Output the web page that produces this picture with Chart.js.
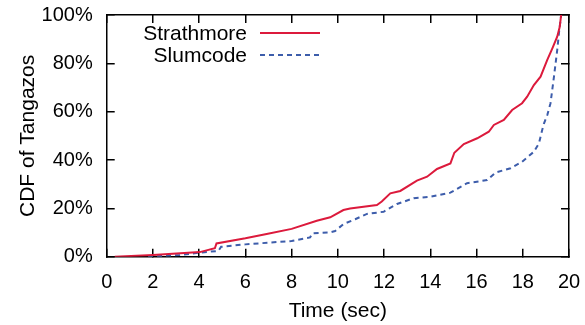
<!DOCTYPE html>
<html>
<head>
<meta charset="utf-8">
<style>
  html, body { margin: 0; padding: 0; background: #fff; }
  #wrap { width: 585px; height: 325px; }
</style>
<script src="https://cdn.jsdelivr.net/npm/chart.js@4/dist/chart.umd.min.js"></script>
</head>
<body>
<div id="wrap"><canvas id="cdfChart" width="585" height="325"></canvas></div>
<script>
// series (time in sec, CDF in %)
const strathTime = [0.35, 2.0, 4.03, 4.68, 4.75, 6.0, 6.92, 8.0, 9.09, 9.67, 10.24, 10.53, 11.69, 11.9, 12.27, 12.7, 13.42, 13.86, 14.29, 14.87, 15.04, 15.45, 16.03, 16.53, 16.75, 17.18, 17.54, 17.97, 18.19, 18.48, 18.77, 19.06, 19.28, 19.49, 19.6, 19.66];
const strathCdf = [0, 0.7, 1.9, 3.5, 5.5, 7.6, 9.4, 11.5, 14.9, 16.3, 19.3, 19.9, 21.4, 22.8, 26.2, 27.2, 31.5, 33.1, 36.3, 38.6, 43, 46.6, 49, 51.7, 54.5, 56.6, 60.7, 63.5, 66.2, 71, 74.5, 81.4, 86.2, 91, 95.1, 100];

const slumTime = [1.79, 3.16, 4.03, 4.83, 4.95, 6.0, 8.0, 8.8, 8.9, 9.67, 9.88, 10.24, 10.75, 11.26, 11.98, 12.56, 13.28, 14.0, 14.87, 15.59, 16.46, 16.82, 17.47, 17.97, 18.48, 18.7, 18.84, 18.92, 19.06, 19.2, 19.35, 19.49, 19.58, 19.66];
const slumCdf = [0, 0.7, 1.7, 2.4, 4.1, 5.1, 6.5, 8, 9.7, 10.1, 10.6, 13.5, 15.5, 17.7, 18.6, 21.8, 24.2, 24.8, 26.5, 30.4, 31.7, 34.8, 36.6, 39.3, 43.4, 46.9, 52.4, 55.2, 58.6, 63.5, 74.5, 85.5, 93.8, 100];

const xTicks = [0, 2, 4, 6, 8, 10, 12, 14, 16, 18, 20];
const yTicks = [0, 20, 40, 60, 80, 100];
const seriesNames = ["Strathmore", "Slumcode"];

const font = "'Liberation Sans', Arial, sans-serif";
const red = "#dc1a3c";
const blue = "#3d5dab";

const toPoints = (xs, ys) => xs.map((x, i) => ({ x, y: ys[i] }));

// box border + inward ticks come from the scales themselves
const frameBorder = { display: true, color: "#000", width: 1.5 };
const inwardTicks = { display: true, drawOnChartArea: false, drawTicks: true, tickLength: -8, color: "#000", lineWidth: 1.5 };

// legend in the top-left corner, text right-aligned before the line sample
const legendPlugin = {
  id: "cornerLegend",
  afterDraw(chart) {
    const { ctx } = chart;
    ctx.save();
    ctx.font = "21px " + font;
    ctx.fillStyle = "#000";
    ctx.textAlign = "right";
    ctx.textBaseline = "middle";
    const rows = [{ y: 34, color: red, dash: [] }, { y: 56, color: blue, dash: [5, 4] }];
    rows.forEach((r, i) => {
      ctx.fillText(seriesNames[i], 247, r.y);
      ctx.beginPath();
      ctx.strokeStyle = r.color;
      ctx.lineWidth = 2;
      ctx.setLineDash(r.dash);
      ctx.moveTo(260, r.y - 1);
      ctx.lineTo(320, r.y - 1);
      ctx.stroke();
    });
    ctx.restore();
  }
};

new Chart(document.getElementById("cdfChart"), {
  type: "line",
  data: {
    datasets: [
      {
        label: seriesNames[0],
        data: toPoints(strathTime, strathCdf),
        borderColor: red,
        borderWidth: 2,
        pointRadius: 0,
        tension: 0,
      },
      {
        label: seriesNames[1],
        data: toPoints(slumTime, slumCdf),
        borderColor: blue,
        borderWidth: 2,
        borderDash: [5, 4],
        pointRadius: 0,
        tension: 0,
      },
    ],
  },
  options: {
    responsive: false,
    animation: false,
    layout: { padding: { left: 0, top: 15, right: 16, bottom: 0 } },
    plugins: {
      legend: { display: false },
      tooltip: { enabled: false },
    },
    scales: {
      x: {
        type: "linear",
        min: 0,
        max: 20,
        afterBuildTicks: (scale) => { scale.ticks = xTicks.map(v => ({ value: v })); },
        afterFit: (scale) => {
          scale.height = 68.3;
          scale.paddingLeft = 0;
          scale.paddingRight = 0;
        },
        grid: inwardTicks,
        border: frameBorder,
        ticks: { color: "#000", font: { family: font, size: 20 }, padding: 22, maxRotation: 0 },
        title: { display: true, text: "Time (sec)", color: "#000", font: { family: font, size: 21 }, padding: { top: 0, bottom: 1 } },
      },
      x2: {
        type: "linear",
        position: "top",
        min: 0,
        max: 20,
        afterBuildTicks: (scale) => { scale.ticks = xTicks.map(v => ({ value: v })); },
        afterFit: (scale) => {
          scale.height = 0;
          scale.paddingLeft = 0;
          scale.paddingRight = 0;
        },
        grid: inwardTicks,
        border: frameBorder,
        ticks: { display: false },
      },
      y: {
        min: 0,
        max: 100,
        afterBuildTicks: (scale) => { scale.ticks = yTicks.map(v => ({ value: v })); },
        afterFit: (scale) => {
          scale.width = 106.7;
          scale.paddingTop = 0;
          scale.paddingBottom = 0;
        },
        grid: inwardTicks,
        border: frameBorder,
        ticks: { color: "#000", font: { family: font, size: 20 }, padding: 22, callback: (v) => v + "%" },
        title: { display: true, text: "CDF of Tangazos", color: "#000", font: { family: font, size: 21 }, padding: { top: 16, bottom: 0 } },
      },
      y2: {
        position: "right",
        min: 0,
        max: 100,
        afterBuildTicks: (scale) => { scale.ticks = yTicks.map(v => ({ value: v })); },
        afterFit: (scale) => {
          scale.width = 0;
          scale.paddingTop = 0;
          scale.paddingBottom = 0;
        },
        grid: inwardTicks,
        border: frameBorder,
        ticks: { display: false },
      },
    },
  },
  plugins: [legendPlugin],
});
</script>
</body>
</html>
